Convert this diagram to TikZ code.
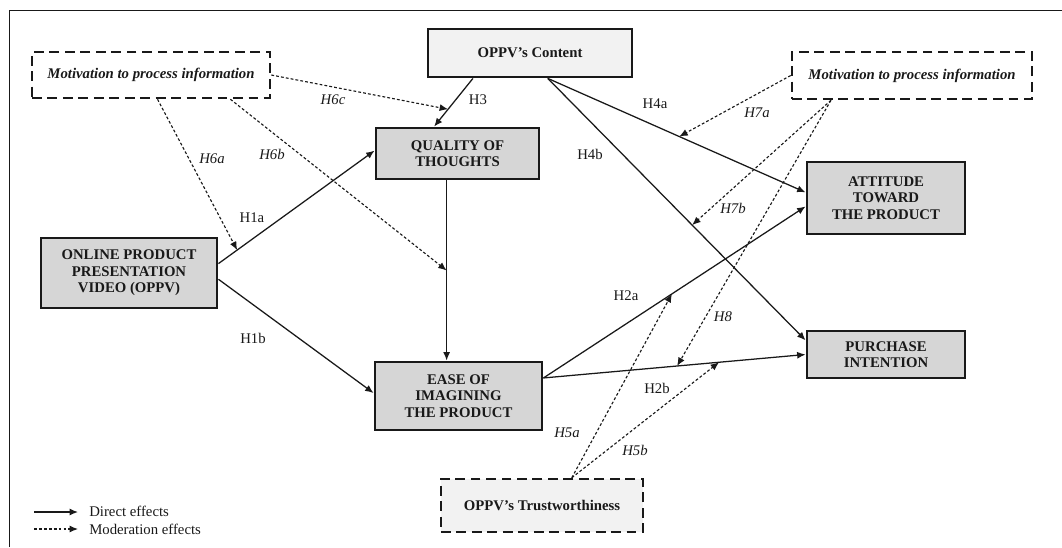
\documentclass[tikz,border=0pt]{standalone}
\usepackage{fontspec}
\setmainfont{Liberation Serif}
\usetikzlibrary{arrows.meta}
\definecolor{boxgray}{RGB}{214, 214, 214}
\definecolor{boxlight}{RGB}{242, 242, 242}
\definecolor{ink}{RGB}{25, 25, 25}

\begin{document}
\begin{tikzpicture}[x=0.025cm, y=-0.025cm, color=ink,
  construct/.style={draw, line width=2pt, fill=boxgray, align=center, inner sep=1pt,
    font=\fontsize{10.5}{11.8}\selectfont\bfseries},
  moderator/.style={draw, line width=1.8pt, dash pattern=on 7pt off 4pt, align=center,
    font=\fontsize{10.5}{12}\selectfont\bfseries\itshape},
  direct/.style={line width=0.9pt, -{Latex[length=6pt, width=5pt]}},
  moder/.style={line width=0.8pt, dash pattern=on 2pt off 1.5pt, -{Latex[length=6pt, width=5pt]}},
  hyp/.style={font=\fontsize{10.5}{12}\selectfont},
  hypm/.style={font=\fontsize{10.5}{12}\selectfont\itshape}]

  \useasboundingbox (0, 0) rectangle (1062, 547);
  \draw [line width=0.7pt] (9, 547) -- (9, 10) -- (1062, 10);

  % constructs
  \node [moderator, minimum width=5.95cm, minimum height=1.15cm] (motivL) at (151, 75)
    {Motivation to process information};
  \node [construct, fill=boxlight, minimum width=5.1cm, minimum height=1.2cm] (content) at (530, 53)
    {OPPV’s Content};
  \node [moderator, minimum width=6cm, minimum height=1.175cm] (motivR) at (912, 75.5)
    {Motivation to process information};
  \node [construct, minimum width=4.075cm, minimum height=1.275cm] (quality) at (457.5, 153.5)
    {QUALITY OF\\THOUGHTS};
  \node [construct, minimum width=3.95cm, minimum height=1.8cm] (attitude) at (886, 198)
    {ATTITUDE\\TOWARD\\THE PRODUCT};
  \node [construct, minimum width=4.4cm, minimum height=1.75cm] (online) at (129, 273)
    {ONLINE PRODUCT\\PRESENTATION\\VIDEO (OPPV)};
  \node [construct, minimum width=4.175cm, minimum height=1.7cm] (ease) at (458.5, 396)
    {EASE OF\\IMAGINING\\THE PRODUCT};
  \node [construct, minimum width=3.95cm, minimum height=1.175cm] (purchase) at (886, 354.5)
    {PURCHASE\\INTENTION};
  \node [moderator, fill=boxlight, font=\fontsize{10.5}{12}\selectfont\bfseries,
    minimum width=5.05cm, minimum height=1.325cm] (trust) at (542, 505.5)
    {OPPV’s Trustworthiness};

  % direct effects
  \draw [direct] (online.6) -- (quality.178) coordinate[pos=0.12] (m6a);
  \draw [direct] (online.-4) -- (ease.178);
  \draw [direct] (content.-156) -- (quality.131) coordinate[pos=0.64] (m6c);
  \draw [direct] (quality.-112) -- (quality.-112 |- ease.north) coordinate[pos=0.5] (m6b);
  \draw [direct] (content.-55) -- (attitude.176) coordinate[pos=0.51] (m7a);
  \draw [direct] (content.-55) -- (purchase.170) coordinate[pos=0.56] (m7b);
  \draw [direct] (ease.12) -- (attitude.-174) coordinate[pos=0.49] (m5a);
  \draw [direct] (ease.12) -- (purchase.west) coordinate[pos=0.51] (m8)
    coordinate[pos=0.67] (m5b);

  % moderation effects
  \draw [moder] (motivL.-75) -- (m6a);
  \draw [moder] (motivL.-17) -- (m6b);
  \draw [moder] (motivL.east) -- (m6c);
  \draw [moder] (motivR.west) -- (m7a);
  \draw [moder] (motivR.-163) -- (m7b);
  \draw [moder] (motivR.-163) -- (m8);
  \draw [moder] (trust.43) -- (m5a);
  \draw [moder] (trust.43) -- (m5b);

  % hypotheses
  \node [hyp] (lH1a) at (252, 218) {H1a};
  \node [hyp] (lH1b) at (253, 338) {H1b};
  \node [hyp] (lH3) at (478, 100) {H3};
  \node [hyp] (lH4a) at (655, 104) {H4a};
  \node [hyp] (lH4b) at (590, 154) {H4b};
  \node [hyp] (lH2a) at (626, 296) {H2a};
  \node [hyp] (lH2b) at (657, 388) {H2b};
  \node [hypm] (lH6a) at (212, 159) {H6a};
  \node [hypm] (lH6b) at (272, 154) {H6b};
  \node [hypm] (lH6c) at (333, 100) {H6c};
  \node [hypm] (lH7a) at (757, 113) {H7a};
  \node [hypm] (lH7b) at (733, 208) {H7b};
  \node [hypm] (lH8) at (723, 317) {H8};
  \node [hypm] (lH5a) at (567, 433) {H5a};
  \node [hypm] (lH5b) at (635, 450) {H5b};

  % legend
  \coordinate (legD0) at (34, 512);
  \coordinate (legD1) at (78, 512);
  \coordinate (legM0) at (34, 529);
  \coordinate (legM1) at (78, 529);
  \draw [direct] (legD0) -- (legD1);
  \draw [moder] (legM0) -- (legM1);
  \node [hyp, anchor=west, inner sep=0pt] (legD) at (89, 511) {Direct effects};
  \node [hyp, anchor=west, inner sep=0pt] (legM) at (89, 529) {Moderation effects};
\end{tikzpicture}
\end{document}
